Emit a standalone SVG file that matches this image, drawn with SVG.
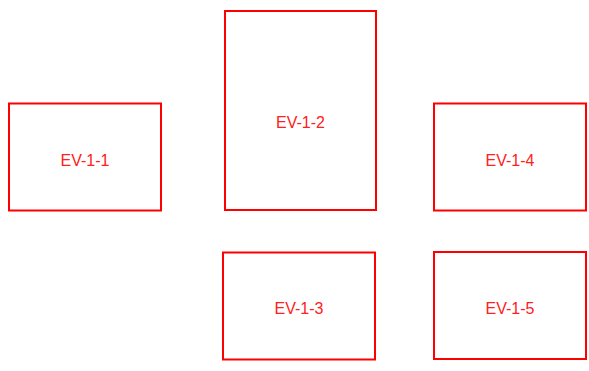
<svg xmlns="http://www.w3.org/2000/svg" width="589" height="371" viewBox="0 0 589 371">
<style>
.box{fill:#fff;stroke:#ff0000;stroke-width:2}
.lbl{fill:#ff2020;font-family:"Liberation Sans",Arial,sans-serif;font-size:16px;text-anchor:middle}
</style>
<rect width="589" height="371" fill="#fff"/>
<g id="connectors"></g>
<g id="EV-1-1"><rect class="box" x="9" y="103.5" width="152" height="107"/><text class="lbl" x="85" y="165.5">EV-1-1</text></g>
<g id="EV-1-2"><rect class="box" x="225" y="11" width="151" height="199"/><text class="lbl" x="300.5" y="127.5">EV-1-2</text></g>
<g id="EV-1-4"><rect class="box" x="434" y="103.5" width="152" height="107"/><text class="lbl" x="510" y="165.5">EV-1-4</text></g>
<g id="EV-1-3"><rect class="box" x="223" y="252.5" width="152" height="107"/><text class="lbl" x="299" y="313.5">EV-1-3</text></g>
<g id="EV-1-5"><rect class="box" x="434" y="252" width="152" height="107"/><text class="lbl" x="510" y="313.5">EV-1-5</text></g>
</svg>
